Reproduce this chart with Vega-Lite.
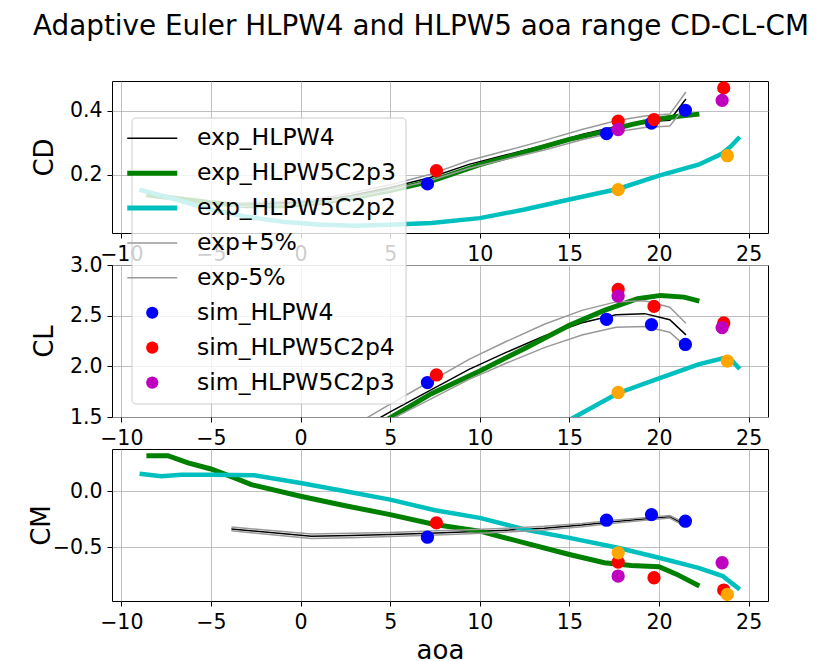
{
  "$schema": "https://vega.github.io/schema/vega-lite/v6.json",
  "padding": {"left": 27, "top": 12, "right": 5, "bottom": 0},
  "title": {"text": "Adaptive Euler HLPW4 and HLPW5 aoa range CD-CL-CM", "fontSize": 27.8, "font": "DejaVu Sans", "fontWeight": "normal", "color": "black", "anchor": "middle", "offset": 40, "dx": 23},
  "spacing": 32,
  "bounds": "flush",
  "datasets": {
    "lines": [
      {"p":"CD","s":"exp_HLPW4","x":-3.86,"y":0.105},{"p":"CD","s":"exp_HLPW4","x":0.6,"y":0.115},{"p":"CD","s":"exp_HLPW4","x":2.8,"y":0.135},{"p":"CD","s":"exp_HLPW4","x":5.0,"y":0.16},{"p":"CD","s":"exp_HLPW4","x":7.2,"y":0.19},{"p":"CD","s":"exp_HLPW4","x":9.4,"y":0.232},{"p":"CD","s":"exp_HLPW4","x":11.5,"y":0.262},{"p":"CD","s":"exp_HLPW4","x":13.6,"y":0.292},{"p":"CD","s":"exp_HLPW4","x":15.7,"y":0.325},{"p":"CD","s":"exp_HLPW4","x":17.6,"y":0.35},{"p":"CD","s":"exp_HLPW4","x":19.2,"y":0.365},{"p":"CD","s":"exp_HLPW4","x":20.6,"y":0.37},{"p":"CD","s":"exp_HLPW4","x":21.5,"y":0.436},
      {"p":"CD","s":"exp_HLPW5C2p3","x":-8.6,"y":0.137},{"p":"CD","s":"exp_HLPW5C2p3","x":-7,"y":0.126},{"p":"CD","s":"exp_HLPW5C2p3","x":-5,"y":0.112},{"p":"CD","s":"exp_HLPW5C2p3","x":-3,"y":0.103},{"p":"CD","s":"exp_HLPW5C2p3","x":-1,"y":0.103},{"p":"CD","s":"exp_HLPW5C2p3","x":1,"y":0.112},{"p":"CD","s":"exp_HLPW5C2p3","x":3,"y":0.128},{"p":"CD","s":"exp_HLPW5C2p3","x":5,"y":0.15},{"p":"CD","s":"exp_HLPW5C2p3","x":7.3,"y":0.18},{"p":"CD","s":"exp_HLPW5C2p3","x":10,"y":0.231},{"p":"CD","s":"exp_HLPW5C2p3","x":12.5,"y":0.27},{"p":"CD","s":"exp_HLPW5C2p3","x":15,"y":0.31},{"p":"CD","s":"exp_HLPW5C2p3","x":17,"y":0.335},{"p":"CD","s":"exp_HLPW5C2p3","x":18.5,"y":0.357},{"p":"CD","s":"exp_HLPW5C2p3","x":20,"y":0.374},{"p":"CD","s":"exp_HLPW5C2p3","x":21.2,"y":0.383},{"p":"CD","s":"exp_HLPW5C2p3","x":22.25,"y":0.389},
      {"p":"CD","s":"exp_HLPW5C2p2","x":-9,"y":0.153},{"p":"CD","s":"exp_HLPW5C2p2","x":-7,"y":0.123},{"p":"CD","s":"exp_HLPW5C2p2","x":-5,"y":0.091},{"p":"CD","s":"exp_HLPW5C2p2","x":-3,"y":0.068},{"p":"CD","s":"exp_HLPW5C2p2","x":-1,"y":0.053},{"p":"CD","s":"exp_HLPW5C2p2","x":1,"y":0.044},{"p":"CD","s":"exp_HLPW5C2p2","x":3,"y":0.04},{"p":"CD","s":"exp_HLPW5C2p2","x":5,"y":0.043},{"p":"CD","s":"exp_HLPW5C2p2","x":7.3,"y":0.049},{"p":"CD","s":"exp_HLPW5C2p2","x":10,"y":0.064},{"p":"CD","s":"exp_HLPW5C2p2","x":12.5,"y":0.091},{"p":"CD","s":"exp_HLPW5C2p2","x":15,"y":0.122},{"p":"CD","s":"exp_HLPW5C2p2","x":17.7,"y":0.155},{"p":"CD","s":"exp_HLPW5C2p2","x":20,"y":0.197},{"p":"CD","s":"exp_HLPW5C2p2","x":22.2,"y":0.231},{"p":"CD","s":"exp_HLPW5C2p2","x":23.5,"y":0.265},{"p":"CD","s":"exp_HLPW5C2p2","x":24.0,"y":0.288},{"p":"CD","s":"exp_HLPW5C2p2","x":24.5,"y":0.3175},
      {"p":"CD","s":"exp+5%","x":-3.86,"y":0.110},{"p":"CD","s":"exp+5%","x":0.6,"y":0.121},{"p":"CD","s":"exp+5%","x":2.8,"y":0.142},{"p":"CD","s":"exp+5%","x":5.0,"y":0.168},{"p":"CD","s":"exp+5%","x":7.2,"y":0.2},{"p":"CD","s":"exp+5%","x":9.4,"y":0.244},{"p":"CD","s":"exp+5%","x":11.5,"y":0.275},{"p":"CD","s":"exp+5%","x":13.6,"y":0.307},{"p":"CD","s":"exp+5%","x":15.7,"y":0.341},{"p":"CD","s":"exp+5%","x":17.6,"y":0.368},{"p":"CD","s":"exp+5%","x":19.2,"y":0.383},{"p":"CD","s":"exp+5%","x":20.6,"y":0.389},{"p":"CD","s":"exp+5%","x":21.5,"y":0.458},
      {"p":"CD","s":"exp-5%","x":-3.86,"y":0.100},{"p":"CD","s":"exp-5%","x":0.6,"y":0.109},{"p":"CD","s":"exp-5%","x":2.8,"y":0.128},{"p":"CD","s":"exp-5%","x":5.0,"y":0.152},{"p":"CD","s":"exp-5%","x":7.2,"y":0.181},{"p":"CD","s":"exp-5%","x":9.4,"y":0.22},{"p":"CD","s":"exp-5%","x":11.5,"y":0.249},{"p":"CD","s":"exp-5%","x":13.6,"y":0.277},{"p":"CD","s":"exp-5%","x":15.7,"y":0.309},{"p":"CD","s":"exp-5%","x":17.6,"y":0.333},{"p":"CD","s":"exp-5%","x":19.2,"y":0.347},{"p":"CD","s":"exp-5%","x":20.6,"y":0.352},{"p":"CD","s":"exp-5%","x":21.5,"y":0.414},

      {"p":"CL","s":"exp_HLPW4","x":-3.86,"y":0.68},{"p":"CL","s":"exp_HLPW4","x":0.6,"y":1.10},{"p":"CL","s":"exp_HLPW4","x":2.8,"y":1.33},{"p":"CL","s":"exp_HLPW4","x":5.0,"y":1.55},{"p":"CL","s":"exp_HLPW4","x":7.2,"y":1.76},{"p":"CL","s":"exp_HLPW4","x":9.4,"y":1.97},{"p":"CL","s":"exp_HLPW4","x":11.5,"y":2.14},{"p":"CL","s":"exp_HLPW4","x":13.6,"y":2.30},{"p":"CL","s":"exp_HLPW4","x":15.7,"y":2.43},{"p":"CL","s":"exp_HLPW4","x":17.6,"y":2.51},{"p":"CL","s":"exp_HLPW4","x":19.2,"y":2.52},{"p":"CL","s":"exp_HLPW4","x":20.6,"y":2.46},{"p":"CL","s":"exp_HLPW4","x":21.5,"y":2.31},
      {"p":"CL","s":"exp_HLPW5C2p3","x":-8.6,"y":0.27},{"p":"CL","s":"exp_HLPW5C2p3","x":-4,"y":0.70},{"p":"CL","s":"exp_HLPW5C2p3","x":0,"y":1.06},{"p":"CL","s":"exp_HLPW5C2p3","x":3,"y":1.31},{"p":"CL","s":"exp_HLPW5C2p3","x":5.09,"y":1.50},{"p":"CL","s":"exp_HLPW5C2p3","x":7.3,"y":1.73},{"p":"CL","s":"exp_HLPW5C2p3","x":10,"y":1.955},{"p":"CL","s":"exp_HLPW5C2p3","x":12.5,"y":2.176},{"p":"CL","s":"exp_HLPW5C2p3","x":15,"y":2.405},{"p":"CL","s":"exp_HLPW5C2p3","x":16.95,"y":2.552},{"p":"CL","s":"exp_HLPW5C2p3","x":18.8,"y":2.667},{"p":"CL","s":"exp_HLPW5C2p3","x":20.1,"y":2.70},{"p":"CL","s":"exp_HLPW5C2p3","x":21.4,"y":2.683},{"p":"CL","s":"exp_HLPW5C2p3","x":22.25,"y":2.644},
      {"p":"CL","s":"exp_HLPW5C2p2","x":-9,"y":-0.55},{"p":"CL","s":"exp_HLPW5C2p2","x":0,"y":0.25},{"p":"CL","s":"exp_HLPW5C2p2","x":10,"y":0.98},{"p":"CL","s":"exp_HLPW5C2p2","x":15.3,"y":1.5},{"p":"CL","s":"exp_HLPW5C2p2","x":17.7,"y":1.735},{"p":"CL","s":"exp_HLPW5C2p2","x":20,"y":1.882},{"p":"CL","s":"exp_HLPW5C2p2","x":22.2,"y":2.02},{"p":"CL","s":"exp_HLPW5C2p2","x":23.55,"y":2.078},{"p":"CL","s":"exp_HLPW5C2p2","x":24.1,"y":2.05},{"p":"CL","s":"exp_HLPW5C2p2","x":24.5,"y":1.974},
      {"p":"CL","s":"exp+5%","x":-3.86,"y":0.714},{"p":"CL","s":"exp+5%","x":0.6,"y":1.155},{"p":"CL","s":"exp+5%","x":2.8,"y":1.397},{"p":"CL","s":"exp+5%","x":5.0,"y":1.628},{"p":"CL","s":"exp+5%","x":7.2,"y":1.848},{"p":"CL","s":"exp+5%","x":9.4,"y":2.069},{"p":"CL","s":"exp+5%","x":11.5,"y":2.247},{"p":"CL","s":"exp+5%","x":13.6,"y":2.415},{"p":"CL","s":"exp+5%","x":15.7,"y":2.552},{"p":"CL","s":"exp+5%","x":17.6,"y":2.636},{"p":"CL","s":"exp+5%","x":19.2,"y":2.646},{"p":"CL","s":"exp+5%","x":20.6,"y":2.583},{"p":"CL","s":"exp+5%","x":21.5,"y":2.426},
      {"p":"CL","s":"exp-5%","x":-3.86,"y":0.646},{"p":"CL","s":"exp-5%","x":0.6,"y":1.045},{"p":"CL","s":"exp-5%","x":2.8,"y":1.264},{"p":"CL","s":"exp-5%","x":5.0,"y":1.473},{"p":"CL","s":"exp-5%","x":7.2,"y":1.672},{"p":"CL","s":"exp-5%","x":9.4,"y":1.872},{"p":"CL","s":"exp-5%","x":11.5,"y":2.033},{"p":"CL","s":"exp-5%","x":13.6,"y":2.185},{"p":"CL","s":"exp-5%","x":15.7,"y":2.309},{"p":"CL","s":"exp-5%","x":17.6,"y":2.385},{"p":"CL","s":"exp-5%","x":19.2,"y":2.394},{"p":"CL","s":"exp-5%","x":20.6,"y":2.337},{"p":"CL","s":"exp-5%","x":21.5,"y":2.195},

      {"p":"CM","s":"exp_HLPW4","x":-3.86,"y":-0.337},{"p":"CM","s":"exp_HLPW4","x":0.6,"y":-0.402},{"p":"CM","s":"exp_HLPW4","x":2.8,"y":-0.395},{"p":"CM","s":"exp_HLPW4","x":5.0,"y":-0.387},{"p":"CM","s":"exp_HLPW4","x":7.2,"y":-0.375},{"p":"CM","s":"exp_HLPW4","x":9.4,"y":-0.362},{"p":"CM","s":"exp_HLPW4","x":11.5,"y":-0.348},{"p":"CM","s":"exp_HLPW4","x":13.6,"y":-0.33},{"p":"CM","s":"exp_HLPW4","x":15.7,"y":-0.303},{"p":"CM","s":"exp_HLPW4","x":17.6,"y":-0.27},{"p":"CM","s":"exp_HLPW4","x":19.2,"y":-0.248},{"p":"CM","s":"exp_HLPW4","x":20.6,"y":-0.229},{"p":"CM","s":"exp_HLPW4","x":21.5,"y":-0.304},
      {"p":"CM","s":"exp_HLPW5C2p3","x":-8.6,"y":0.318},{"p":"CM","s":"exp_HLPW5C2p3","x":-7.4,"y":0.318},{"p":"CM","s":"exp_HLPW5C2p3","x":-6.28,"y":0.253},{"p":"CM","s":"exp_HLPW5C2p3","x":-5,"y":0.199},{"p":"CM","s":"exp_HLPW5C2p3","x":-3.68,"y":0.119},{"p":"CM","s":"exp_HLPW5C2p3","x":-2.75,"y":0.059},{"p":"CM","s":"exp_HLPW5C2p3","x":0,"y":-0.045},{"p":"CM","s":"exp_HLPW5C2p3","x":2.5,"y":-0.13},{"p":"CM","s":"exp_HLPW5C2p3","x":5,"y":-0.209},{"p":"CM","s":"exp_HLPW5C2p3","x":7.48,"y":-0.298},{"p":"CM","s":"exp_HLPW5C2p3","x":10,"y":-0.357},{"p":"CM","s":"exp_HLPW5C2p3","x":12.5,"y":-0.462},{"p":"CM","s":"exp_HLPW5C2p3","x":15,"y":-0.566},{"p":"CM","s":"exp_HLPW5C2p3","x":16.95,"y":-0.64},{"p":"CM","s":"exp_HLPW5C2p3","x":18.45,"y":-0.664},{"p":"CM","s":"exp_HLPW5C2p3","x":20,"y":-0.676},{"p":"CM","s":"exp_HLPW5C2p3","x":21,"y":-0.744},{"p":"CM","s":"exp_HLPW5C2p3","x":22.25,"y":-0.848},
      {"p":"CM","s":"exp_HLPW5C2p2","x":-8.98,"y":0.157},{"p":"CM","s":"exp_HLPW5C2p2","x":-7.77,"y":0.134},{"p":"CM","s":"exp_HLPW5C2p2","x":-6.65,"y":0.148},{"p":"CM","s":"exp_HLPW5C2p2","x":-5,"y":0.148},{"p":"CM","s":"exp_HLPW5C2p2","x":-2.58,"y":0.143},{"p":"CM","s":"exp_HLPW5C2p2","x":0,"y":0.074},{"p":"CM","s":"exp_HLPW5C2p2","x":2.5,"y":0.0},{"p":"CM","s":"exp_HLPW5C2p2","x":5,"y":-0.075},{"p":"CM","s":"exp_HLPW5C2p2","x":7.5,"y":-0.17},{"p":"CM","s":"exp_HLPW5C2p2","x":10,"y":-0.238},{"p":"CM","s":"exp_HLPW5C2p2","x":12.5,"y":-0.342},{"p":"CM","s":"exp_HLPW5C2p2","x":15,"y":-0.417},{"p":"CM","s":"exp_HLPW5C2p2","x":17.7,"y":-0.506},{"p":"CM","s":"exp_HLPW5C2p2","x":20,"y":-0.595},{"p":"CM","s":"exp_HLPW5C2p2","x":22.2,"y":-0.685},{"p":"CM","s":"exp_HLPW5C2p2","x":23.55,"y":-0.759},{"p":"CM","s":"exp_HLPW5C2p2","x":24.5,"y":-0.878},
      {"p":"CM","s":"exp+5%","x":-3.86,"y":-0.354},{"p":"CM","s":"exp+5%","x":0.6,"y":-0.422},{"p":"CM","s":"exp+5%","x":2.8,"y":-0.415},{"p":"CM","s":"exp+5%","x":5.0,"y":-0.406},{"p":"CM","s":"exp+5%","x":7.2,"y":-0.394},{"p":"CM","s":"exp+5%","x":9.4,"y":-0.38},{"p":"CM","s":"exp+5%","x":11.5,"y":-0.365},{"p":"CM","s":"exp+5%","x":13.6,"y":-0.347},{"p":"CM","s":"exp+5%","x":15.7,"y":-0.318},{"p":"CM","s":"exp+5%","x":17.6,"y":-0.284},{"p":"CM","s":"exp+5%","x":19.2,"y":-0.26},{"p":"CM","s":"exp+5%","x":20.6,"y":-0.24},{"p":"CM","s":"exp+5%","x":21.5,"y":-0.319},
      {"p":"CM","s":"exp-5%","x":-3.86,"y":-0.32},{"p":"CM","s":"exp-5%","x":0.6,"y":-0.382},{"p":"CM","s":"exp-5%","x":2.8,"y":-0.375},{"p":"CM","s":"exp-5%","x":5.0,"y":-0.368},{"p":"CM","s":"exp-5%","x":7.2,"y":-0.356},{"p":"CM","s":"exp-5%","x":9.4,"y":-0.344},{"p":"CM","s":"exp-5%","x":11.5,"y":-0.331},{"p":"CM","s":"exp-5%","x":13.6,"y":-0.314},{"p":"CM","s":"exp-5%","x":15.7,"y":-0.288},{"p":"CM","s":"exp-5%","x":17.6,"y":-0.257},{"p":"CM","s":"exp-5%","x":19.2,"y":-0.236},{"p":"CM","s":"exp-5%","x":20.6,"y":-0.218},{"p":"CM","s":"exp-5%","x":21.5,"y":-0.289}
    ],
    "pts": [
      {"p":"CD","s":"sim_HLPW4","x":7.08,"y":0.171},{"p":"CD","s":"sim_HLPW4","x":17.07,"y":0.328},{"p":"CD","s":"sim_HLPW4","x":19.58,"y":0.361},{"p":"CD","s":"sim_HLPW4","x":21.47,"y":0.401},
      {"p":"CD","s":"sim_HLPW5C2p4","x":7.58,"y":0.2125},{"p":"CD","s":"sim_HLPW5C2p4","x":17.72,"y":0.367},{"p":"CD","s":"sim_HLPW5C2p4","x":19.72,"y":0.372},{"p":"CD","s":"sim_HLPW5C2p4","x":23.61,"y":0.471},
      {"p":"CD","s":"sim_HLPW5C2p3","x":17.72,"y":0.341},{"p":"CD","s":"sim_HLPW5C2p3","x":23.52,"y":0.432},
      {"p":"CD","s":"sim_HLPW5C2p2","x":17.72,"y":0.153},{"p":"CD","s":"sim_HLPW5C2p2","x":23.81,"y":0.259},
      {"p":"CL","s":"sim_HLPW4","x":7.08,"y":1.84},{"p":"CL","s":"sim_HLPW4","x":17.07,"y":2.464},{"p":"CL","s":"sim_HLPW4","x":19.58,"y":2.412},{"p":"CL","s":"sim_HLPW4","x":21.47,"y":2.216},
      {"p":"CL","s":"sim_HLPW5C2p4","x":7.58,"y":1.915},{"p":"CL","s":"sim_HLPW5C2p4","x":17.72,"y":2.758},{"p":"CL","s":"sim_HLPW5C2p4","x":19.72,"y":2.592},{"p":"CL","s":"sim_HLPW5C2p4","x":23.61,"y":2.428},
      {"p":"CL","s":"sim_HLPW5C2p3","x":17.72,"y":2.693},{"p":"CL","s":"sim_HLPW5C2p3","x":23.52,"y":2.382},
      {"p":"CL","s":"sim_HLPW5C2p2","x":17.72,"y":1.742},{"p":"CL","s":"sim_HLPW5C2p2","x":23.81,"y":2.052},
      {"p":"CM","s":"sim_HLPW4","x":7.08,"y":-0.411},{"p":"CM","s":"sim_HLPW4","x":17.07,"y":-0.259},{"p":"CM","s":"sim_HLPW4","x":19.58,"y":-0.209},{"p":"CM","s":"sim_HLPW4","x":21.47,"y":-0.268},
      {"p":"CM","s":"sim_HLPW5C2p4","x":7.58,"y":-0.283},{"p":"CM","s":"sim_HLPW5C2p4","x":17.72,"y":-0.634},{"p":"CM","s":"sim_HLPW5C2p4","x":19.72,"y":-0.774},{"p":"CM","s":"sim_HLPW5C2p4","x":23.61,"y":-0.884},
      {"p":"CM","s":"sim_HLPW5C2p3","x":17.72,"y":-0.759},{"p":"CM","s":"sim_HLPW5C2p3","x":23.52,"y":-0.64},
      {"p":"CM","s":"sim_HLPW5C2p2","x":17.72,"y":-0.551},{"p":"CM","s":"sim_HLPW5C2p2","x":23.81,"y":-0.923}
    ]
  },
  "vconcat": [
    {
      "width": 656, "height": 152,
      "layer": [
        {"data": {"name": "lines"}, "transform": [{"filter": "datum.p == 'CD'"}],
         "mark": {"type": "line", "clip": true},
         "encoding": {
           "x": {"field": "x", "type": "quantitative", "scale": {"domain": [-10.52, 26.08], "nice": false, "zero": false}, "axis": {"values": [-10,-5,0,5,10,15,20,25], "title": null}},
           "y": {"field": "y", "type": "quantitative", "scale": {"domain": [0.0175, 0.4925], "nice": false, "zero": false}, "axis": {"values": [0.2, 0.4], "format": ".1f", "title": "CD", "titleX": -68, "titleY": 76, "titleAngle": -90, "titleAlign": "center", "titleBaseline": "middle"}},
           "color": {"field": "s", "type": "nominal",
             "scale": {"domain": ["exp_HLPW4","exp_HLPW5C2p3","exp_HLPW5C2p2","exp+5%","exp-5%","sim_HLPW4","sim_HLPW5C2p4","sim_HLPW5C2p3"], "range": ["#000000","#008000","#00bfbf","#999999","#999999","#0000ff","#ff0000","#bf00bf"]},
             "legend": {"orient": "none", "legendX": 19.5, "legendY": 36.5, "title": null, "labelFontSize": 23.5, "labelFont": "DejaVu Sans", "labelColor": "black", "labelLimit": 400, "symbolSize": 2500, "symbolType": "stroke", "labelOffset": 33, "rowPadding": 9.9, "padding": 9, "fillColor": "rgba(255,255,255,0.8)", "strokeColor": "#cccccc", "cornerRadius": 4,
               "encode": {"symbols": {"update": {
                 "shape": {"signal": "indexof(['sim_HLPW4','sim_HLPW5C2p4','sim_HLPW5C2p3'], datum.value) >= 0 ? 'circle' : 'stroke'"},
                 "size": {"signal": "indexof(['sim_HLPW4','sim_HLPW5C2p4','sim_HLPW5C2p3'], datum.value) >= 0 ? 150 : 2500"},
                 "strokeWidth": {"signal": "indexof(['sim_HLPW4','sim_HLPW5C2p4','sim_HLPW5C2p3'], datum.value) >= 0 ? 0 : ((datum.value == 'exp_HLPW5C2p3' || datum.value == 'exp_HLPW5C2p2') ? 5 : 1.5)"},
                 "fill": {"signal": "indexof(['sim_HLPW4','sim_HLPW5C2p4','sim_HLPW5C2p3'], datum.value) >= 0 ? scale('color', datum.value) : 'transparent'"},
                 "stroke": {"signal": "scale('color', datum.value)"},
                 "opacity": {"value": 1}
               }}}
             }},
           "strokeWidth": {"field": "s", "type": "nominal", "scale": {"type": "ordinal", "domain": ["exp_HLPW4","exp_HLPW5C2p3","exp_HLPW5C2p2","exp+5%","exp-5%"], "range": [1.5, 5, 4.5, 1.5, 1.5]}, "legend": null}
         }},
        {"data": {"name": "pts"}, "transform": [{"filter": "datum.p == 'CD' && datum.s != 'sim_HLPW5C2p2'"}],
         "mark": {"type": "circle", "size": 177, "opacity": 1, "clip": true},
         "encoding": {"x": {"field": "x", "type": "quantitative"}, "y": {"field": "y", "type": "quantitative"}, "color": {"field": "s", "type": "nominal"}}},
        {"data": {"name": "pts"}, "transform": [{"filter": "datum.p == 'CD' && datum.s == 'sim_HLPW5C2p2'"}],
         "mark": {"type": "circle", "size": 177, "opacity": 1, "color": "#ffa500", "clip": true},
         "encoding": {"x": {"field": "x", "type": "quantitative"}, "y": {"field": "y", "type": "quantitative"}}}
      ]
    },
    {
      "width": 656, "height": 152,
      "layer": [
        {"data": {"name": "lines"}, "transform": [{"filter": "datum.p == 'CL'"}],
         "mark": {"type": "line", "clip": true},
         "encoding": {
           "x": {"field": "x", "type": "quantitative", "scale": {"domain": [-10.52, 26.08], "nice": false, "zero": false}, "axis": {"values": [-10,-5,0,5,10,15,20,25], "title": null}},
           "y": {"field": "y", "type": "quantitative", "scale": {"domain": [1.5, 3.0], "nice": false, "zero": false}, "axis": {"values": [1.5, 2.0, 2.5, 3.0], "format": ".1f", "title": "CL", "titleX": -68, "titleY": 76, "titleAngle": -90, "titleAlign": "center", "titleBaseline": "middle"}},
           "color": {"field": "s", "type": "nominal"},
           "strokeWidth": {"field": "s", "type": "nominal", "scale": {"type": "ordinal", "domain": ["exp_HLPW4","exp_HLPW5C2p3","exp_HLPW5C2p2","exp+5%","exp-5%"], "range": [1.5, 5, 4.5, 1.5, 1.5]}, "legend": null}
         }},
        {"data": {"name": "pts"}, "transform": [{"filter": "datum.p == 'CL' && datum.s != 'sim_HLPW5C2p2'"}],
         "mark": {"type": "circle", "size": 177, "opacity": 1, "clip": true},
         "encoding": {"x": {"field": "x", "type": "quantitative"}, "y": {"field": "y", "type": "quantitative"}, "color": {"field": "s", "type": "nominal"}}},
        {"data": {"name": "pts"}, "transform": [{"filter": "datum.p == 'CL' && datum.s == 'sim_HLPW5C2p2'"}],
         "mark": {"type": "circle", "size": 177, "opacity": 1, "color": "#ffa500", "clip": true},
         "encoding": {"x": {"field": "x", "type": "quantitative"}, "y": {"field": "y", "type": "quantitative"}}}
      ]
    },
    {
      "width": 656, "height": 152,
      "layer": [
        {"data": {"name": "lines"}, "transform": [{"filter": "datum.p == 'CM'"}],
         "mark": {"type": "line", "clip": true},
         "encoding": {
           "x": {"field": "x", "type": "quantitative", "scale": {"domain": [-10.52, 26.08], "nice": false, "zero": false}, "axis": {"values": [-10,-5,0,5,10,15,20,25], "title": "aoa", "titleY": 57, "titleBaseline": "alphabetic"}},
           "y": {"field": "y", "type": "quantitative", "scale": {"domain": [-0.982, 0.378], "nice": false, "zero": false}, "axis": {"values": [-0.5, 0.0], "format": ".1f", "title": "CM", "titleX": -71, "titleY": 76, "titleAngle": -90, "titleAlign": "center", "titleBaseline": "middle"}},
           "color": {"field": "s", "type": "nominal"},
           "strokeWidth": {"field": "s", "type": "nominal", "scale": {"type": "ordinal", "domain": ["exp_HLPW4","exp_HLPW5C2p3","exp_HLPW5C2p2","exp+5%","exp-5%"], "range": [1.5, 5, 4.5, 1.5, 1.5]}, "legend": null}
         }},
        {"data": {"name": "pts"}, "transform": [{"filter": "datum.p == 'CM' && datum.s != 'sim_HLPW5C2p2'"}],
         "mark": {"type": "circle", "size": 177, "opacity": 1, "clip": true},
         "encoding": {"x": {"field": "x", "type": "quantitative"}, "y": {"field": "y", "type": "quantitative"}, "color": {"field": "s", "type": "nominal"}}},
        {"data": {"name": "pts"}, "transform": [{"filter": "datum.p == 'CM' && datum.s == 'sim_HLPW5C2p2'"}],
         "mark": {"type": "circle", "size": 177, "opacity": 1, "color": "#ffa500", "clip": true},
         "encoding": {"x": {"field": "x", "type": "quantitative"}, "y": {"field": "y", "type": "quantitative"}}}
      ]
    }
  ],
  "config": {
    "view": {"stroke": "black", "strokeWidth": 1},
    "axis": {"labelFont": "DejaVu Sans", "titleFont": "DejaVu Sans", "labelFontSize": 20.5, "titleFontSize": 26, "titleFontWeight": "normal", "labelColor": "black", "titleColor": "black", "tickColor": "black", "tickWidth": 1, "domain": false, "grid": true, "gridColor": "#b0b0b0", "gridWidth": 0.8, "tickSize": 5, "labelPadding": 5},
    "axisX": {"labelPadding": 6},
    "line": {"strokeCap": "butt"}
  }
}
